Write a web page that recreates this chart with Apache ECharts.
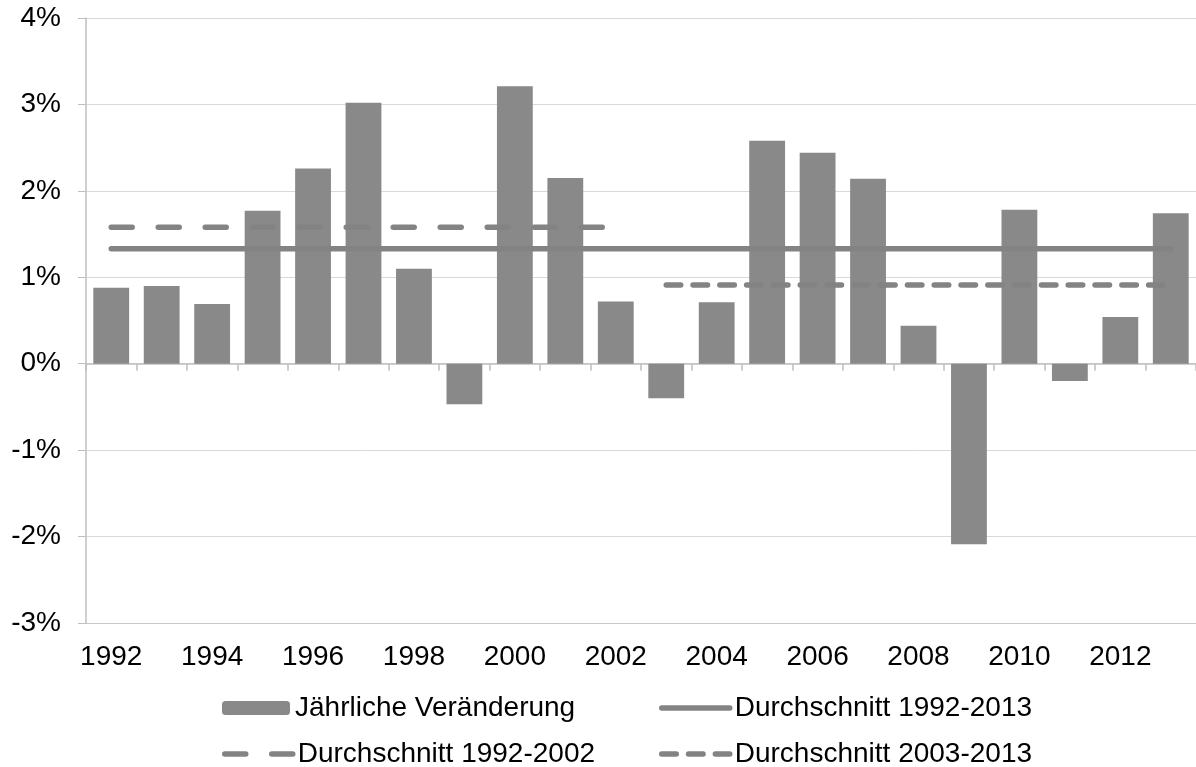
<!DOCTYPE html>
<html>
<head>
<meta charset="utf-8">
<script src="https://cdn.jsdelivr.net/npm/echarts@6/dist/echarts.min.js"></script>
<style>
  html, body { margin: 0; padding: 0; background: #fff; }
</style>
</head>
<body>
<div id="main" style="width: 1196px; height: 767px;"></div>
<script>
// Jahre und Werte in Prozent
var years = ['1992', '1993', '1994', '1995', '1996', '1997', '1998', '1999', '2000', '2001', '2002',
  '2003', '2004', '2005', '2006', '2007', '2008', '2009', '2010', '2011', '2012', '2013'];
var change = [0.88, 0.90, 0.69, 1.77, 2.26, 3.02, 1.10, -0.47, 3.21, 2.15, 0.72,
  -0.40, 0.71, 2.58, 2.44, 2.14, 0.44, -2.09, 1.78, -0.20, 0.54, 1.74];
var avgAll = 1.33;
var avgFirst = 1.58;
var avgSecond = 0.91;
var names = ['Jährliche Veränderung', 'Durchschnitt 1992-2013', 'Durchschnitt 1992-2002', 'Durchschnitt 2003-2013'];

var fontFamily = '"Liberation Sans", Arial, sans-serif';
var barGrey = '#898989';
var lineGrey = '#838383';

// Durchschnittslinien aus den Jahren bauen
var lineAll = [];
var lineFirst = [];
var lineSecond = [];
for (var i = 0; i < years.length; i++) {
  var y = parseInt(years[i], 10);
  lineAll.push(avgAll);
  lineFirst.push(y <= 2002 ? avgFirst : '-');
  lineSecond.push(y >= 2003 ? avgSecond : '-');
}

// eine Legende pro Eintrag, 2x2 angeordnet
function makeLegend(left, top, item) {
  return {
    left: left,
    top: top,
    itemWidth: 68,
    itemHeight: 14,
    selectedMode: false,
    lineStyle: { width: 5.5, cap: 'round' },
    textStyle: { fontSize: 28, lineHeight: 28, color: '#000', fontFamily: fontFamily },
    data: [item]
  };
}

var myChart = echarts.init(document.getElementById('main'));

var option = {
  backgroundColor: '#fff',
  animation: false,
  grid: { left: 86, right: -3, top: 18, bottom: 144 },
  legend: [
    makeLegend(217, 689, { name: names[0] }),
    makeLegend(654, 689, { name: names[1], itemStyle: { opacity: 0 } }),
    makeLegend(217, 735, { name: names[2], itemStyle: { opacity: 0 } }),
    makeLegend(654, 735, { name: names[3], itemStyle: { opacity: 0 } })
  ],
  xAxis: [
    {
      type: 'category',
      data: years,
      position: 'bottom',
      axisLine: { onZero: false, lineStyle: { color: '#c8c8c8', width: 1 } },
      axisTick: { show: false },
      axisLabel: { interval: 1, margin: 20, fontSize: 28, color: '#000', fontFamily: fontFamily }
    },
    {
      // Nulllinie mit Teilstrichen
      type: 'category',
      data: years,
      position: 'bottom',
      axisLine: { onZero: true, lineStyle: { color: '#bfbfbf', width: 1.5 } },
      axisTick: { show: true, interval: 0, length: 7, lineStyle: { color: '#bfbfbf', width: 1.5 } },
      axisLabel: { show: false }
    }
  ],
  yAxis: {
    type: 'value',
    min: -3,
    max: 4,
    interval: 1,
    axisLine: { show: true, lineStyle: { color: '#bfbfbf', width: 1.5 } },
    axisTick: { show: true, length: 8, lineStyle: { color: '#bfbfbf' } },
    splitLine: { lineStyle: { color: '#d9d9d9', width: 1 } },
    axisLabel: {
      margin: 25,
      fontSize: 28,
      color: '#000',
      fontFamily: fontFamily,
      formatter: function (v) { return v + '%'; }
    }
  },
  series: [
    {
      name: names[0],
      type: 'bar',
      data: change,
      barCategoryGap: '29%',
      itemStyle: { color: barGrey }
    },
    {
      name: names[1],
      type: 'line',
      data: lineAll,
      symbol: 'none',
      z: 3,
      lineStyle: { color: lineGrey, width: 5.5, cap: 'round' },
      itemStyle: { color: lineGrey }
    },
    {
      name: names[2],
      type: 'line',
      data: lineFirst,
      symbol: 'none',
      z: 3,
      lineStyle: { color: lineGrey, width: 5.5, cap: 'round', type: [21, 26] },
      itemStyle: { color: lineGrey }
    },
    {
      name: names[3],
      type: 'line',
      data: lineSecond,
      symbol: 'none',
      z: 3,
      lineStyle: { color: lineGrey, width: 5.5, cap: 'round', type: [14.5, 12.3] },
      itemStyle: { color: lineGrey }
    }
  ]
};

myChart.setOption(option);
</script>
</body>
</html>
